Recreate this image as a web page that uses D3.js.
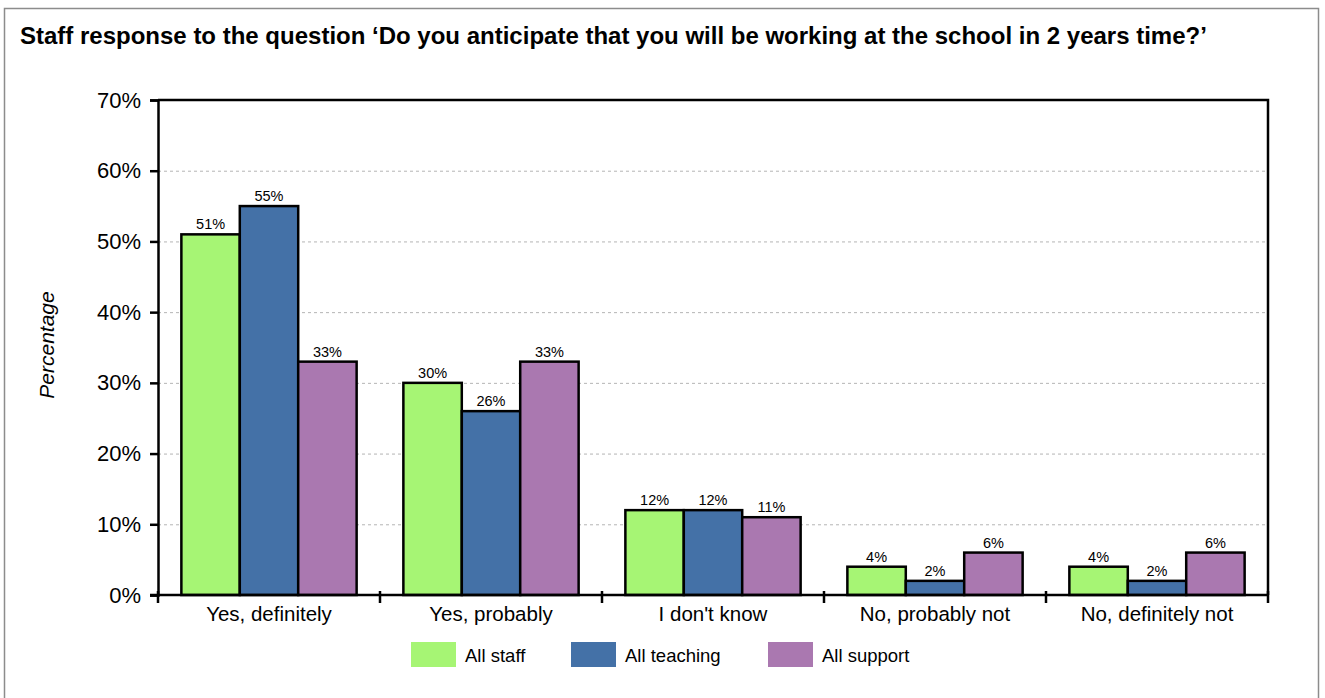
<!DOCTYPE html>
<html>
<head>
<meta charset="utf-8">
<script src="https://cdn.jsdelivr.net/npm/d3@7"></script>
<style>
  body { margin: 0; background: #fff; }
  text { font-family: "Liberation Sans", Arial, sans-serif; fill: #000; }
</style>
</head>
<body>
<div id="chart"></div>
<script>
// Dimensions of the picture.
var width = 1325;
var height = 698;

// Chart data.
var categories = ["Yes, definitely", "Yes, probably", "I don't know", "No, probably not", "No, definitely not"];
var seriesNames = ["All staff", "All teaching", "All support"];
var allStaff = [51, 30, 12, 4, 4];
var allTeaching = [55, 26, 12, 2, 2];
var allSupport = [33, 33, 11, 6, 6];
var yTicks = [0, 10, 20, 30, 40, 50, 60, 70];

var colors = ["#a6f574", "#4471a7", "#aa78b0"];
var series = [allStaff, allTeaching, allSupport];

var margin = { left: 158, right: 1268, top: 100, bottom: 595 };

var svg = d3.select("#chart").append("svg")
    .attr("width", width)
    .attr("height", height);

// Outer border
svg.append("rect")
    .attr("x", 4.5).attr("y", 8.5)
    .attr("width", 1314).attr("height", 700)
    .attr("fill", "#fff")
    .attr("stroke", "#8c8c8c")
    .attr("stroke-width", 1.5);

// Title
svg.append("text")
    .attr("x", 20).attr("y", 44)
    .attr("font-size", 24)
    .attr("font-weight", "bold")
    .text("Staff response to the question \u2018Do you anticipate that you will be working at the school in 2 years time?\u2019");

var x0 = d3.scaleBand()
    .domain(categories)
    .range([margin.left, margin.right]);

var x1 = d3.scaleBand()
    .domain(seriesNames)
    .range([0, x0.bandwidth()])
    .paddingOuter(0.4)
    .paddingInner(0);

var y = d3.scaleLinear()
    .domain([0, 70])
    .range([margin.bottom, margin.top]);

// Grid lines
svg.append("g")
    .selectAll("line")
    .data(yTicks.filter(function(d) { return d > 0 && d < 70; }))
    .enter().append("line")
    .attr("x1", margin.left).attr("x2", margin.right)
    .attr("y1", function(d) { return y(d) + 0.5; })
    .attr("y2", function(d) { return y(d) + 0.5; })
    .attr("stroke", "#b4b4b4")
    .attr("stroke-width", 1)
    .attr("stroke-dasharray", "3,3");

// Bars
var groups = svg.append("g")
    .selectAll("g")
    .data(categories)
    .enter().append("g")
    .attr("transform", function(d) { return "translate(" + x0(d) + ",0)"; });

groups.selectAll("rect")
    .data(function(d, i) {
        return seriesNames.map(function(s, j) { return { name: s, value: series[j][i], idx: j }; });
    })
    .enter().append("rect")
    .attr("x", function(d) { return x1(d.name); })
    .attr("y", function(d) { return y(d.value); })
    .attr("width", x1.bandwidth())
    .attr("height", function(d) { return y(0) - y(d.value); })
    .attr("fill", function(d) { return colors[d.idx]; })
    .attr("stroke", "#000")
    .attr("stroke-width", 2.5);

groups.selectAll("text")
    .data(function(d, i) {
        return seriesNames.map(function(s, j) { return { name: s, value: series[j][i] }; });
    })
    .enter().append("text")
    .attr("x", function(d) { return x1(d.name) + x1.bandwidth() / 2; })
    .attr("y", function(d) { return y(d.value) - 5; })
    .attr("text-anchor", "middle")
    .attr("font-size", 14.5)
    .text(function(d) { return d.value + "%"; });

// Plot frame (top and right)
svg.append("path")
    .attr("d", "M" + margin.left + "," + margin.top + "H" + margin.right + "V" + margin.bottom)
    .attr("fill", "none")
    .attr("stroke", "#000")
    .attr("stroke-width", 2.5);

// Y axis
var yAxis = svg.append("g")
    .attr("transform", "translate(" + margin.left + ",0)")
    .call(d3.axisLeft(y).tickValues(yTicks).tickSize(8).tickPadding(9)
        .tickFormat(function(d) { return d + "%"; }));
yAxis.select(".domain").attr("stroke-width", 2.5);
yAxis.selectAll(".tick line").attr("stroke-width", 2.5);
yAxis.selectAll("text").attr("font-size", 22).attr("font-family", "Liberation Sans, Arial, sans-serif");

// X axis
var xAxis = svg.append("g")
    .attr("transform", "translate(0," + margin.bottom + ")");
xAxis.append("line")
    .attr("x1", margin.left - 8).attr("x2", margin.right)
    .attr("stroke", "#000").attr("stroke-width", 2.5);
xAxis.selectAll(".sep")
    .data(categories.map(function(c) { return x0(c); }).concat([margin.right]))
    .enter().append("line")
    .attr("class", "sep")
    .attr("x1", function(d) { return d; }).attr("x2", function(d) { return d; })
    .attr("y1", -4).attr("y2", 8)
    .attr("stroke", "#000").attr("stroke-width", 2.5);
xAxis.selectAll(".cat")
    .data(categories)
    .enter().append("text")
    .attr("class", "cat")
    .attr("x", function(d) { return x0(d) + x0.bandwidth() / 2; })
    .attr("y", 26)
    .attr("text-anchor", "middle")
    .attr("font-size", 20.5)
    .text(function(d) { return d; });

// Y axis title
svg.append("text")
    .attr("transform", "translate(54,345) rotate(-90)")
    .attr("text-anchor", "middle")
    .attr("font-size", 21)
    .attr("font-style", "italic")
    .text("Percentage");

// Legend
var legendX = [411, 571, 768];
var legend = svg.append("g")
    .selectAll("g")
    .data(seriesNames)
    .enter().append("g")
    .attr("transform", function(d, i) { return "translate(" + legendX[i] + ",642)"; });
legend.append("rect")
    .attr("width", 45).attr("height", 25)
    .attr("fill", function(d, i) { return colors[i]; });
legend.append("text")
    .attr("x", 54).attr("y", 20)
    .attr("font-size", 18.5)
    .text(function(d) { return d; });
</script>
</body>
</html>
